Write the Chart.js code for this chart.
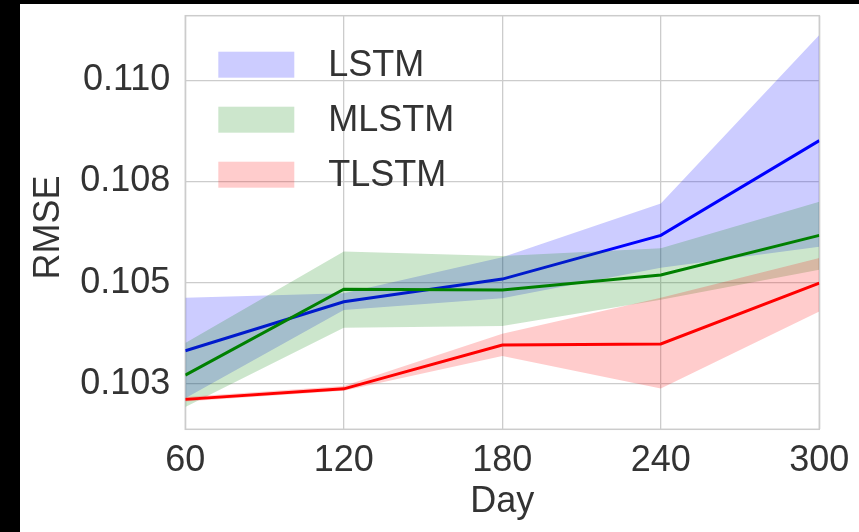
<!DOCTYPE html>
<html>
<head>
<meta charset="utf-8">
<script src="https://cdn.jsdelivr.net/npm/chart.js@4"></script>
<style>
  body { margin: 0; background: #000; }
  .div_chart { position: absolute; left: 20px; top: 4px; width: 839px; height: 528px; background: #fff; }
</style>
</head>
<body>
<div class="div_chart"><canvas class="chart" width="839" height="528"></canvas></div>
<script>
const days = [60, 120, 180, 240, 300];
const seriesNames = ['LSTM', 'MLSTM', 'TLSTM'];

const lstmMean = [0.10382, 0.10503, 0.10559, 0.10667, 0.10901];
const lstmUpper = [0.10513, 0.10524, 0.10613, 0.10746, 0.11162];
const lstmLower = [0.10265, 0.10483, 0.10512, 0.10587, 0.10639];

const mlstmMean = [0.10322, 0.10534, 0.10532, 0.10569, 0.10667];
const mlstmUpper = [0.10401, 0.10627, 0.10616, 0.10635, 0.10750];
const mlstmLower = [0.10243, 0.10439, 0.10443, 0.10508, 0.10582];

const tlstmMean = [0.10262, 0.10288, 0.10396, 0.10399, 0.10549];
const tlstmUpper = [0.10268, 0.10295, 0.10424, 0.10513, 0.10611];
const tlstmLower = [0.10257, 0.10283, 0.10369, 0.10289, 0.10479];

const yTicks = [0.1030, 0.1055, 0.1080, 0.1105];
const yTickLabels = ['0.103', '0.105', '0.108', '0.110'];

const textColor = '#333';
const gridColor = '#cccccc';
const font = 'Liberation Sans';

const toPoints = (arr) => arr.map((v, i) => ({ x: days[i], y: v }));

// one band (upper filled down to lower) plus the mean line, per model
const makeSeries = (name, mean, upper, lower, line, fill, order) => [
	{
		label: name + ' upper',
		data: toPoints(upper),
		borderWidth: 0,
		pointRadius: 0,
		backgroundColor: fill,
		fill: '+1',
		order: order,
	},
	{
		label: name + ' lower',
		data: toPoints(lower),
		borderWidth: 0,
		pointRadius: 0,
		fill: false,
		order: order,
	},
	{
		label: name,
		data: toPoints(mean),
		borderColor: line,
		borderWidth: 3,
		pointRadius: 0,
		fill: false,
		order: order + 1,
	},
];

const bandColors = ['rgba(0,0,255,0.2)', 'rgba(0,128,0,0.2)', 'rgba(255,0,0,0.2)'];
const lineColors = ['#0000ff', '#008000', '#ff0000'];

const datasets = [
	...makeSeries(seriesNames[0], lstmMean, lstmUpper, lstmLower, lineColors[0], bandColors[0], 8),
	...makeSeries(seriesNames[1], mlstmMean, mlstmUpper, mlstmLower, lineColors[1], bandColors[1], 4),
	...makeSeries(seriesNames[2], tlstmMean, tlstmUpper, tlstmLower, lineColors[2], bandColors[2], 0),
];

const framePlugin = {
	id: 'frame',
	beforeDatasetsDraw(chart) {
		const { ctx, chartArea: a } = chart;
		ctx.save();
		ctx.strokeStyle = gridColor;
		ctx.lineWidth = 1.5;
		ctx.strokeRect(a.left, a.top, a.right - a.left, a.bottom - a.top);
		ctx.restore();
	},
};

const legendPlugin = {
	id: 'bandLegend',
	afterDraw(chart) {
		const { ctx, chartArea: a } = chart;
		ctx.save();
		ctx.font = '36px "' + font + '"';
		ctx.textBaseline = 'middle';
		seriesNames.forEach((name, i) => {
			const cy = a.top + 49 + i * 55;
			ctx.fillStyle = bandColors[i];
			ctx.fillRect(a.left + 33, cy - 13, 76, 26);
			ctx.fillStyle = textColor;
			ctx.fillText(name, a.left + 143, cy + 1);
		});
		ctx.restore();
	},
};

const ctx = document.querySelector('.chart');
new Chart(ctx, {
	type: 'line',
	data: { datasets: datasets },
	plugins: [framePlugin, legendPlugin],
	options: {
		responsive: false,
		animation: false,
		layout: { padding: { top: 11.7, right: 39.7, bottom: 0, left: 0 } },
		plugins: { legend: { display: false }, tooltip: { enabled: false } },
		scales: {
			x: {
				type: 'linear',
				min: 60,
				max: 300,
				afterBuildTicks: (s) => { s.ticks = days.map((v) => ({ value: v })); },
				afterFit: (s) => { s.height = 102.7; s.paddingLeft = 0; s.paddingRight = 0; },
				grid: { color: gridColor, lineWidth: 1.3, drawTicks: false },
				border: { display: false },
				ticks: { color: textColor, font: { family: font, size: 36 }, padding: 10, maxRotation: 0 },
				title: { display: true, text: 'Day', color: textColor, font: { family: font, size: 36 }, padding: { top: 0, bottom: 8 } },
			},
			y: {
				min: 0.101881,
				max: 0.112095,
				afterBuildTicks: (s) => { s.ticks = yTicks.map((v) => ({ value: v })); },
				afterFit: (s) => { s.width = 165.3; s.paddingTop = 0; s.paddingBottom = 0; },
				grid: { color: gridColor, lineWidth: 1.3, drawTicks: false },
				border: { display: false },
				ticks: {
					color: textColor,
					font: { family: font, size: 36 },
					padding: 15,
					callback: (v, i) => yTickLabels[i],
				},
				title: { display: true, text: 'RMSE ', color: textColor, font: { family: font, size: 36 }, padding: { top: 7, bottom: 0 } },
			},
		},
	},
});
</script>
</body>
</html>
